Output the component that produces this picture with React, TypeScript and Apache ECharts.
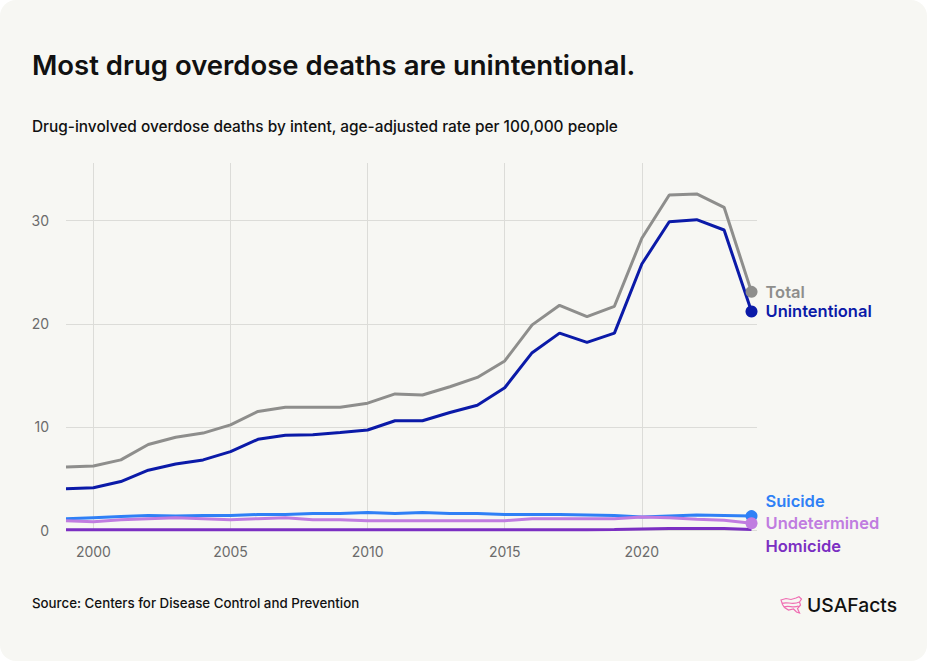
import React, { useEffect, useRef } from "react";
import * as echarts from "echarts";

const years = [1999, 2000, 2001, 2002, 2003, 2004, 2005, 2006, 2007, 2008, 2009, 2010, 2011, 2012, 2013, 2014, 2015, 2016, 2017, 2018, 2019, 2020, 2021, 2022, 2023, 2024];
const total = [6.1, 6.2, 6.8, 8.3, 9.0, 9.4, 10.2, 11.5, 11.9, 11.9, 11.9, 12.3, 13.2, 13.1, 13.9, 14.8, 16.4, 19.9, 21.8, 20.7, 21.7, 28.3, 32.5, 32.6, 31.3, 23.1];
const unintentional = [4.0, 4.1, 4.7, 5.8, 6.4, 6.8, 7.6, 8.8, 9.2, 9.25, 9.45, 9.7, 10.6, 10.6, 11.4, 12.1, 13.8, 17.2, 19.1, 18.2, 19.1, 25.8, 29.9, 30.1, 29.1, 21.2];
const suicide = [1.1, 1.2, 1.3, 1.4, 1.35, 1.4, 1.4, 1.5, 1.5, 1.6, 1.6, 1.7, 1.6, 1.7, 1.6, 1.6, 1.5, 1.5, 1.5, 1.45, 1.4, 1.25, 1.35, 1.45, 1.4, 1.35];
const undetermined = [0.9, 0.8, 1.0, 1.1, 1.2, 1.1, 1.0, 1.1, 1.2, 1.0, 1.0, 0.9, 0.9, 0.9, 0.9, 0.9, 0.9, 1.1, 1.1, 1.1, 1.1, 1.25, 1.2, 1.05, 0.95, 0.65];
const homicide = [0.03, 0.03, 0.03, 0.03, 0.03, 0.03, 0.03, 0.03, 0.03, 0.03, 0.03, 0.03, 0.03, 0.03, 0.03, 0.03, 0.03, 0.03, 0.03, 0.03, 0.05, 0.1, 0.15, 0.15, 0.15, 0.05];
const xTicks = [2000, 2005, 2010, 2015, 2020];
const yTicks = [0, 10, 20, 30];

const FONT = "Inter, 'Noto Sans', sans-serif";

const logoPath =
  "M1 4 L6 2.5 L11 3.5 L16 2 L19 0.8 L21.5 3 L19.5 6 L20.5 9 L17.5 12.5 L19.5 17 L16.5 16 L13.5 13 L8.5 14 L4.5 11.5 L2.5 8.5 Z " +
  "M2 7.5 C7 5 12 9.5 19.5 6 M4 11 C9 9 13 12.5 18.5 10";

echarts.graphic.registerShape("usaLogo", echarts.graphic.extendPath(logoPath, {}) as any);

export default function App() {
  const ref = useRef<HTMLDivElement>(null);
  useEffect(() => {
    if (!ref.current) return;
    const chart = echarts.init(ref.current, null, { renderer: "svg" });
    const mk = (
      name: string,
      values: number[],
      color: string,
      dy: number,
      z: number,
      dot: boolean
    ) => ({
      name,
      type: "line",
      z,
      data: values.map((v, i) => [years[i], v]),
      clip: false,
      symbol: "circle",
      showSymbol: true,
      symbolSize: (_v: any, p: any) => (dot && p.dataIndex === values.length - 1 ? 12 : 0),
      lineStyle: { color, width: 3 },
      itemStyle: { color },
      emphasis: { disabled: true },
      endLabel: {
        show: true,
        formatter: name,
        color,
        fontFamily: FONT,
        fontSize: 16.5,
        fontWeight: 600,
        distance: 14,
        offset: [0, dy],
      },
      labelLayout: { hideOverlap: false },
    });
    chart.setOption({
      animation: false,
      backgroundColor: "transparent",
      grid: { left: 66, right: 172, top: 163, bottom: 133, containLabel: false },
      xAxis: {
        type: "value",
        min: 1999,
        max: 2024.2,
        axisLine: { show: false },
        axisTick: { show: false, customValues: xTicks },
        axisLabel: {
          customValues: xTicks,
          color: "#6b6b6b",
          fontFamily: FONT,
          fontSize: 14,
          margin: 14,
          formatter: (v: number) => String(v),
        },
        splitLine: { show: true, lineStyle: { color: "#dcdcd8", width: 1 } },
      },
      yAxis: {
        type: "value",
        min: 0,
        max: 35.6,
        axisLine: { show: false },
        axisTick: { show: false, customValues: yTicks },
        axisLabel: {
          customValues: yTicks,
          color: "#6b6b6b",
          fontFamily: FONT,
          fontSize: 14,
          margin: 17,
        },
        splitLine: { show: true, lineStyle: { color: "#dcdcd8", width: 1 } },
      },
      series: [
        mk("Homicide", homicide, "#7b2fc2", 17, 2, false),
        mk("Suicide", suicide, "#2f80f6", -15, 3, true),
        mk("Undetermined", undetermined, "#c07ce0", 0, 4, true),
        mk("Unintentional", unintentional, "#0b1aa8", 0, 5, true),
        mk("Total", total, "#8e8e8c", 0, 6, true),
      ],
      graphic: [
        {
          type: "text",
          left: 32,
          top: 51,
          style: {
            text: "Most drug overdose deaths are unintentional.",
            fontFamily: FONT,
            fontSize: 27.5,
            fontWeight: 600,
            fill: "#111111",
          },
        },
        {
          type: "text",
          left: 32,
          top: 119,
          style: {
            text: "Drug-involved overdose deaths by intent, age-adjusted rate per 100,000 people",
            fontFamily: FONT,
            fontSize: 15.4,
            fontWeight: 500,
            fill: "#111111",
          },
        },
        {
          type: "text",
          left: 32,
          top: 596,
          style: {
            text: "Source: Centers for Disease Control and Prevention",
            fontFamily: FONT,
            fontSize: 13.3,
            fontWeight: 500,
            fill: "#111111",
          },
        },
        {
          type: "usaLogo",
          x: 780,
          y: 596,
          scaleX: 1,
          scaleY: 1,
          style: { stroke: "#ef6db2", fill: "none", lineWidth: 1.2 },
        },
        {
          type: "text",
          left: 807,
          top: 595,
          style: {
            text: "USAFacts",
            fontFamily: FONT,
            fontSize: 19.3,
            fontWeight: 500,
            fill: "#111111",
          },
        },
      ],
    });
    return () => chart.dispose();
  }, []);
  return (
    <div style={{ position: "fixed", left: 0, top: 0, width: 929, height: 663, background: "#ffffff" }}>
      <div
        style={{
          position: "absolute",
          left: 0,
          top: 0,
          width: 927,
          height: 661,
          background: "#f7f7f3",
          borderRadius: 16,
        }}
      />
      <div ref={ref} style={{ position: "absolute", left: 0, top: 0, width: 929, height: 663 }} />
    </div>
  );
}
